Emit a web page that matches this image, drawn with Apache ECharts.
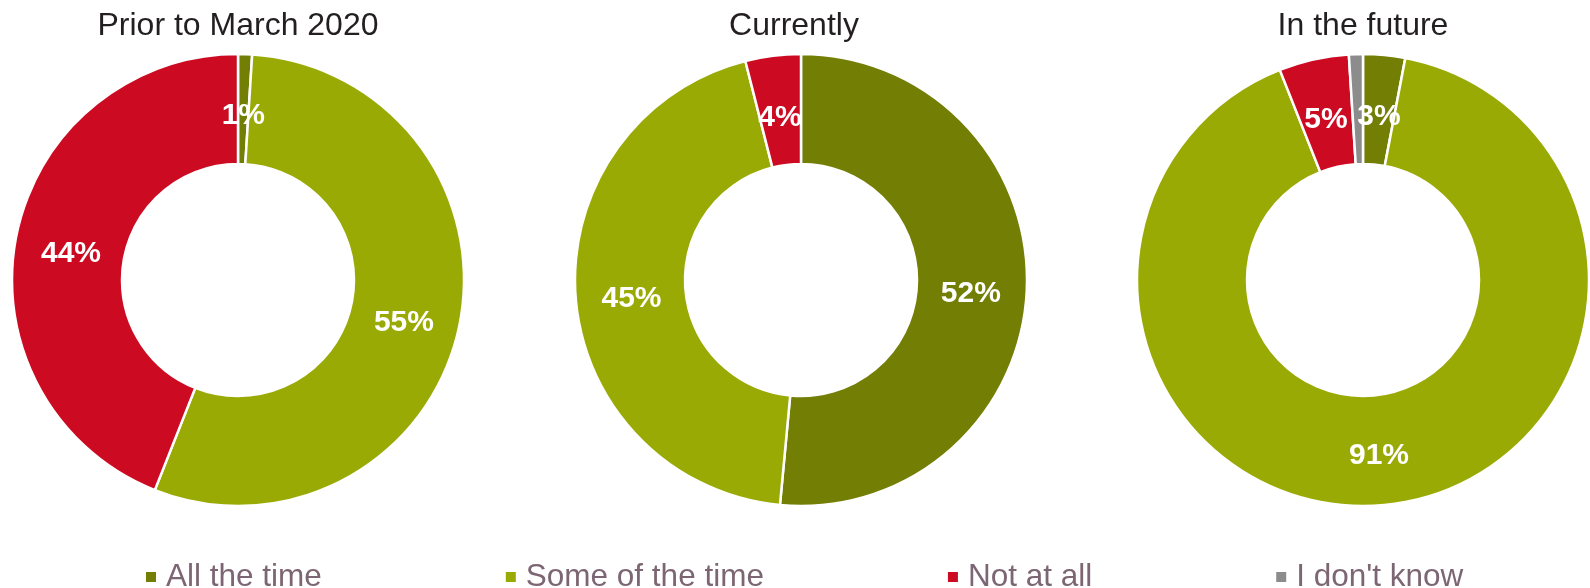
<!DOCTYPE html>
<html>
<head>
<meta charset="utf-8">
<script src="https://cdn.jsdelivr.net/npm/echarts@6/dist/echarts.min.js"></script>
<style>
  html, body { margin: 0; padding: 0; background: #fff; }
  #chart { width: 1590px; height: 588px; }
</style>
</head>
<body>
<div id="chart"></div>
<script>
// Answer categories (legend order, also slice order clockwise from 12 o'clock)
const categories = ['All the time', 'Some of the time', 'Not at all', "I don't know"];
const categoryColors = ['#737e05', '#9aaa05', '#cc0b22', '#8c8c8c'];

// Panel titles
const periods = ['Prior to March 2020', 'Currently', 'In the future'];

// Share of respondents (%) per category, one array per period
const priorValues = [1, 55, 44, 0];
const currentValues = [52, 45, 4, 0];
const futureValues = [3, 91, 5, 1];

// Categories whose slice carries no text label in a given period
const unlabeled = { 'In the future': ["I don't know"] };

const panelValues = [priorValues, currentValues, futureValues];
const centersX = [238, 801, 1363];
const centerY = 280;
const FONT = '"Liberation Sans", Arial, sans-serif';

// Labels sit a little inside the ring's mid-line and slightly lower
const LABEL_INSET = 4;
const LABEL_DROP = 6;

const chart = echarts.init(document.getElementById('chart'));

const titles = periods.map((p, i) => ({
  text: p,
  left: centersX[i] - (i === 1 ? 7 : 0),
  top: 10,
  textAlign: 'center',
  padding: 0,
  textStyle: { fontFamily: FONT, fontSize: 32, fontWeight: 'normal', color: '#231f20' }
}));

function labelOffset(values, k) {
  const total = values.reduce((a, b) => a + b, 0);
  const before = values.slice(0, k).reduce((a, b) => a + b, 0);
  const mid = (before + values[k] / 2) / total * 2 * Math.PI;
  return [-Math.sin(mid) * LABEL_INSET, Math.cos(mid) * LABEL_INSET + LABEL_DROP];
}

const series = periods.map((p, i) => ({
  name: p,
  type: 'pie',
  center: [centersX[i], centerY],
  radius: [116, 226],
  startAngle: 90,
  clockwise: true,
  avoidLabelOverlap: false,
  animation: false,
  itemStyle: { borderColor: '#ffffff', borderWidth: 2.5 },
  label: {
    show: true,
    position: 'inside',
    formatter: '{c}%',
    color: '#ffffff',
    fontFamily: FONT,
    fontSize: 30,
    fontWeight: 'bold',
    textBorderWidth: 0
  },
  labelLine: { show: false },
  emphasis: { disabled: true },
  data: categories
    .map((c, k) => ({
      name: c,
      value: panelValues[i][k],
      itemStyle: { color: categoryColors[k] },
      label: {
        show: !((unlabeled[p] || []).includes(c)),
        offset: labelOffset(panelValues[i], k)
      }
    }))
    .filter(d => d.value > 0)
}));

chart.setOption({
  backgroundColor: '#ffffff',
  color: categoryColors,
  title: titles,
  legend: {
    data: categories,
    orient: 'horizontal',
    left: 144,
    top: 561,
    icon: 'rect',
    itemWidth: 12,
    itemHeight: 12,
    itemGap: 182,
    padding: 0,
    selectedMode: false,
    textStyle: { fontFamily: FONT, fontSize: 31.5, color: '#7d6673', padding: [0, 0, 0, 4] }
  },
  series: series
});
</script>
</body>
</html>
